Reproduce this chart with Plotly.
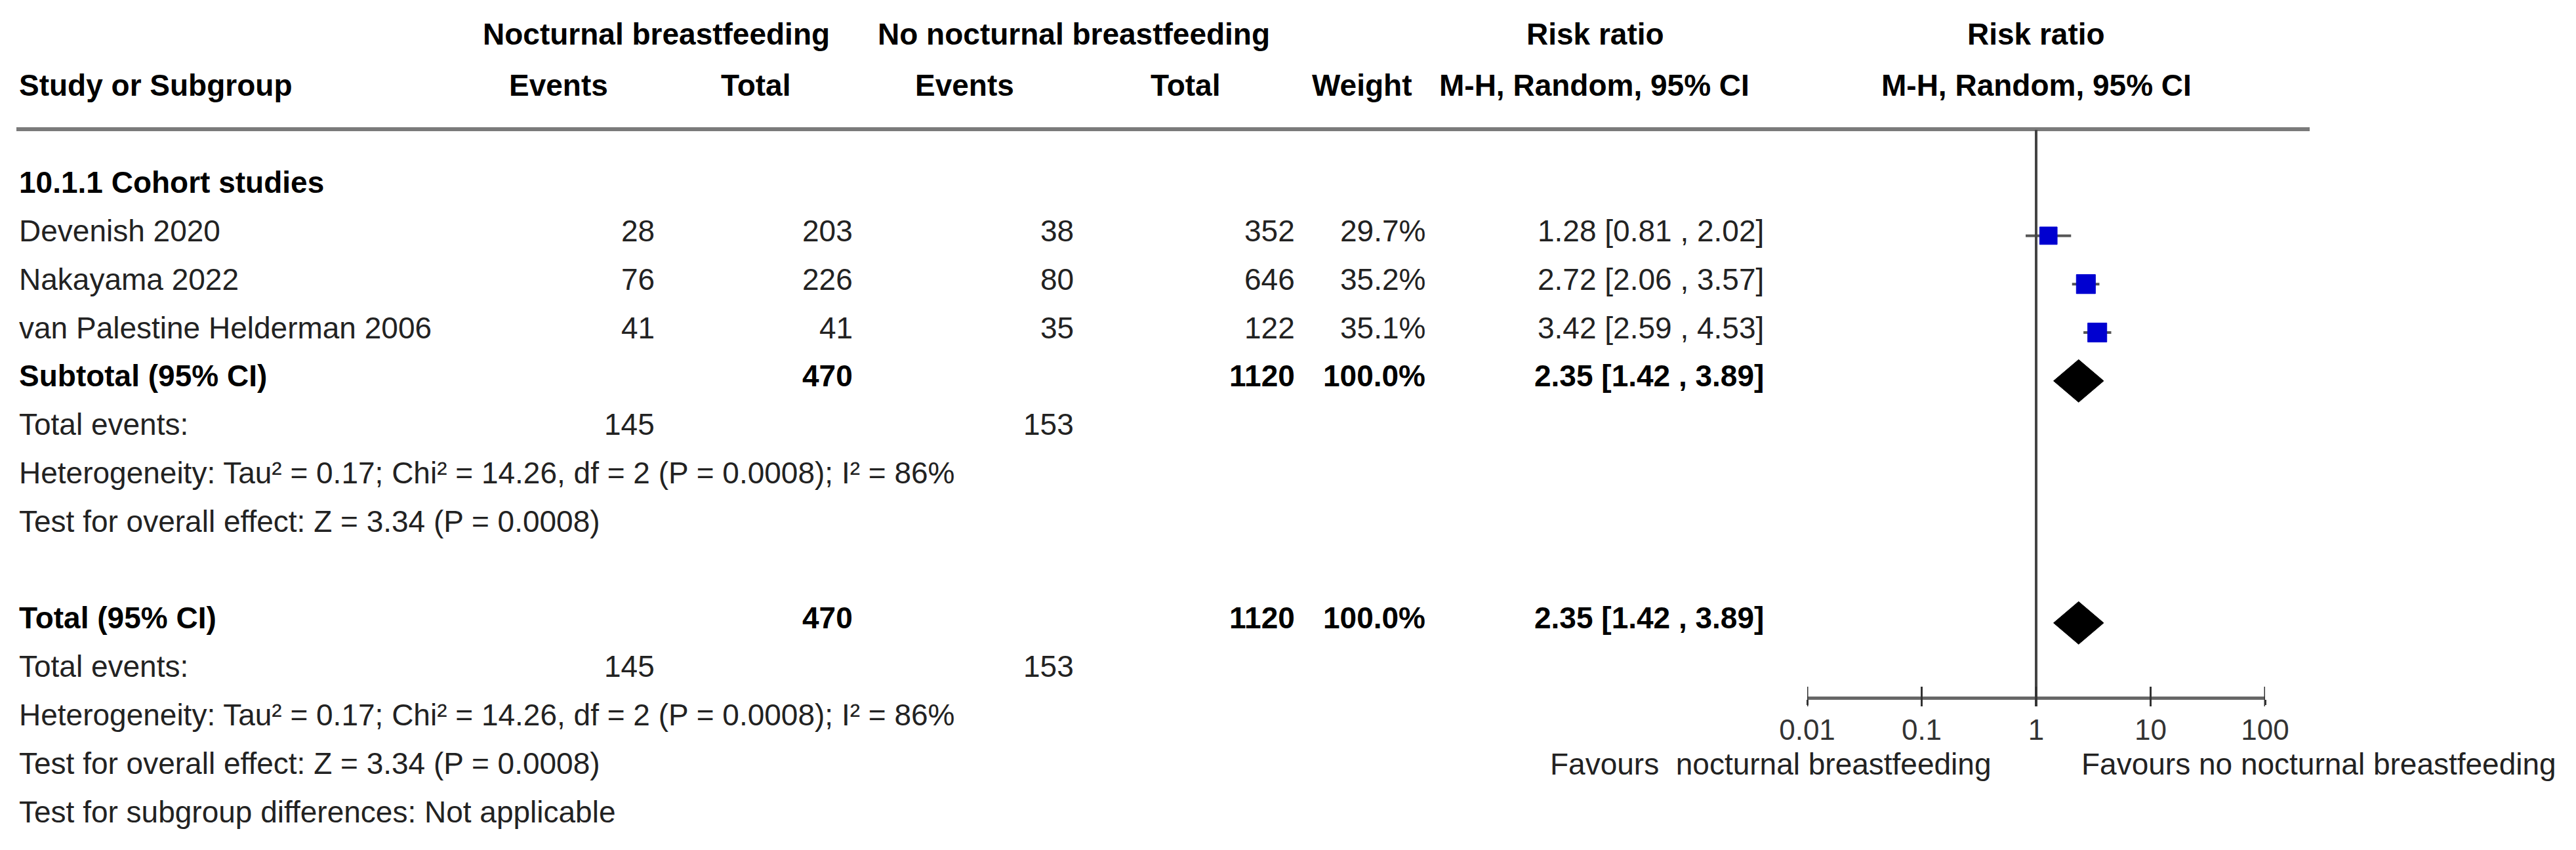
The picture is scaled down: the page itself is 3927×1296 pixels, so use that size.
import plotly.graph_objects as go

# ---------------- data ----------------
studies = ["Devenish 2020", "Nakayama 2022", "van Palestine Helderman 2006"]
events_nb = [28, 76, 41]
total_nb = [203, 226, 41]
events_no = [38, 80, 35]
total_no = [352, 646, 122]
weights = [29.7, 35.2, 35.1]
rr = [1.28, 2.72, 3.42]
rr_lo = [0.81, 2.06, 2.59]
rr_hi = [2.02, 3.57, 4.53]

subgroup_title = "10.1.1 Cohort studies"
pooled_total_nb = 470
pooled_total_no = 1120
pooled_weight = 100.0
pooled_rr = 2.35
pooled_lo = 1.42
pooled_hi = 3.89
pooled_events_nb = 145
pooled_events_no = 153
het_text = "Heterogeneity: Tau² = 0.17; Chi² = 14.26, df = 2 (P = 0.0008); I² = 86%"
overall_text = "Test for overall effect: Z = 3.34 (P = 0.0008)"
subgroup_diff_text = "Test for subgroup differences: Not applicable"

tick_vals = [0.01, 0.1, 1, 10, 100]
tick_text = ["0.01", "0.1", "1", "10", "100"]
favours_left = "Favours \u00a0nocturnal breastfeeding"
favours_right = "Favours no nocturnal breastfeeding"

# ---------------- layout constants (pixels) ----------------
W, H = 3927, 1296
ROW0, ROW_H = 352, 73.8
PLOT_TOP, PLOT_BOT = 198, 1062
AX_X0, AX_X1 = 2755, 3453
FS = 46
FONT = "Liberation Sans, Arial, sans-serif"
TXT = "#222"
MARK_DY = 0.1

def py(p):
    return 1 - p / H

def px(p):
    return p / W

def row_px(r):
    return ROW0 + ROW_H * r

annotations = []

def add(text, x, y, anchor="left", bold=False, color=None, size=FS):
    annotations.append(dict(
        text=f"<b>{text}</b>" if bold else text,
        x=px(x), y=py(y), xref="paper", yref="paper",
        xanchor=anchor, yanchor="middle", showarrow=False, borderpad=0,
        font=dict(family=FONT, size=size, color=color or ("#000" if bold else TXT)),
    ))

# headers
add("Nocturnal breastfeeding", 1000, 52, "center", True)
add("No nocturnal breastfeeding", 1637, 52, "center", True)
add("Risk ratio", 2432, 52, "center", True)
add("Risk ratio", 3104, 52, "center", True)
add("Study or Subgroup", 28, 130, "left", True)
add("Events", 851, 130, "center", True)
add("Total", 1152, 130, "center", True)
add("Events", 1470, 130, "center", True)
add("Total", 1807, 130, "center", True)
add("Weight", 2076, 130, "center", True)
add("M-H, Random, 95% CI", 2430, 130, "center", True)
add("M-H, Random, 95% CI", 3104, 130, "center", True)

COL_EV1, COL_TOT1, COL_EV2, COL_TOT2, COL_W, COL_RR = 999, 1301, 1638, 1975, 2174, 2690

def rr_str(e, l, h):
    return f"{e:.2f} [{l:.2f} , {h:.2f}]"

add(subgroup_title, 28, row_px(-1), "left", True)
for i, name in enumerate(studies):
    y = row_px(i)
    add(name, 28, y)
    add(str(events_nb[i]), COL_EV1, y, "right")
    add(str(total_nb[i]), COL_TOT1, y, "right")
    add(str(events_no[i]), COL_EV2, y, "right")
    add(str(total_no[i]), COL_TOT2, y, "right")
    add(f"{weights[i]:.1f}%", COL_W, y, "right")
    add(rr_str(rr[i], rr_lo[i], rr_hi[i]), COL_RR, y, "right")

n = len(studies)
blocks = [(n, "Subtotal (95% CI)", False), (n + 5, "Total (95% CI)", True)]
for r, label, last in blocks:
    y = row_px(r)
    add(label, 28, y, "left", True)
    add(str(pooled_total_nb), COL_TOT1, y, "right", True)
    add(str(pooled_total_no), COL_TOT2, y, "right", True)
    add(f"{pooled_weight:.1f}%", COL_W, y, "right", True)
    add(rr_str(pooled_rr, pooled_lo, pooled_hi), COL_RR, y, "right", True)
    add("Total events:", 28, row_px(r + 1))
    add(str(pooled_events_nb), COL_EV1, row_px(r + 1), "right")
    add(str(pooled_events_no), COL_EV2, row_px(r + 1), "right")
    add(het_text, 28, row_px(r + 2))
    add(overall_text, 28, row_px(r + 3))
    if last:
        add(subgroup_diff_text, 28, row_px(r + 4))

add(favours_left, 3037, 1165, "right")
add(favours_right, 3172, 1165, "left")

# ---------------- forest plot traces ----------------
fig = go.Figure()
for i in range(n):
    yy = i + MARK_DY
    fig.add_trace(go.Scatter(x=[rr_lo[i], rr_hi[i]], y=[yy, yy], mode="lines",
                             line=dict(color="#555", width=4), hoverinfo="skip", showlegend=False))
fig.add_trace(go.Scatter(x=rr, y=[i + MARK_DY for i in range(n)], mode="markers",
                         marker=dict(symbol="square", color="#0000D0", opacity=1,
                                     size=[4.9 * w ** 0.5 for w in weights],
                                     line=dict(width=1, color="#0000D0")),
                         hoverinfo="skip", showlegend=False))
half_h = 0.44
for r, _, _ in blocks:
    yy = r + MARK_DY
    fig.add_trace(go.Scatter(
        x=[pooled_lo, pooled_rr, pooled_hi, pooled_rr, pooled_lo],
        y=[yy, yy - half_h, yy, yy + half_h, yy],
        mode="lines", fill="toself", fillcolor="#000", line=dict(color="#000", width=1),
        hoverinfo="skip", showlegend=False))

# ---------------- shapes ----------------
shapes = [
    dict(type="line", xref="paper", yref="paper", x0=px(25), x1=px(3521), y0=py(197), y1=py(197),
         line=dict(color="#7a7a7a", width=6)),
    dict(type="line", xref="x", yref="paper", x0=1, x1=1, y0=py(PLOT_TOP), y1=py(1077),
         line=dict(color="#444", width=4)),
]
for t in tick_vals:
    shapes.append(dict(type="line", xref="x", yref="paper", x0=t, x1=t, y0=py(1077), y1=py(1047),
                       line=dict(color="#333", width=3)))

fig.update_layout(
    width=W, height=H, margin=dict(l=0, r=0, t=0, b=0, pad=0, autoexpand=False),
    paper_bgcolor="white", plot_bgcolor="white",
    annotations=annotations, shapes=shapes,
    xaxis=dict(type="log", range=[-2, 2], domain=[px(AX_X0), px(AX_X1)], automargin=False,
               tickvals=tick_vals, ticktext=tick_text, ticks="outside", ticklen=8,
               tickwidth=3, tickcolor="#333", showline=True, linecolor="#666", linewidth=5,
               showgrid=False, zeroline=False,
               tickfont=dict(family=FONT, size=44, color="#333")),
    yaxis=dict(range=[(PLOT_BOT - ROW0) / ROW_H, (PLOT_TOP - ROW0) / ROW_H], automargin=False,
               domain=[py(PLOT_BOT), py(PLOT_TOP)], visible=False, showgrid=False, zeroline=False),
)

fig.write_html("out.html", config={"displayModeBar": False},
               post_script="document.body.style.margin='0';document.body.style.overflow='hidden';")
